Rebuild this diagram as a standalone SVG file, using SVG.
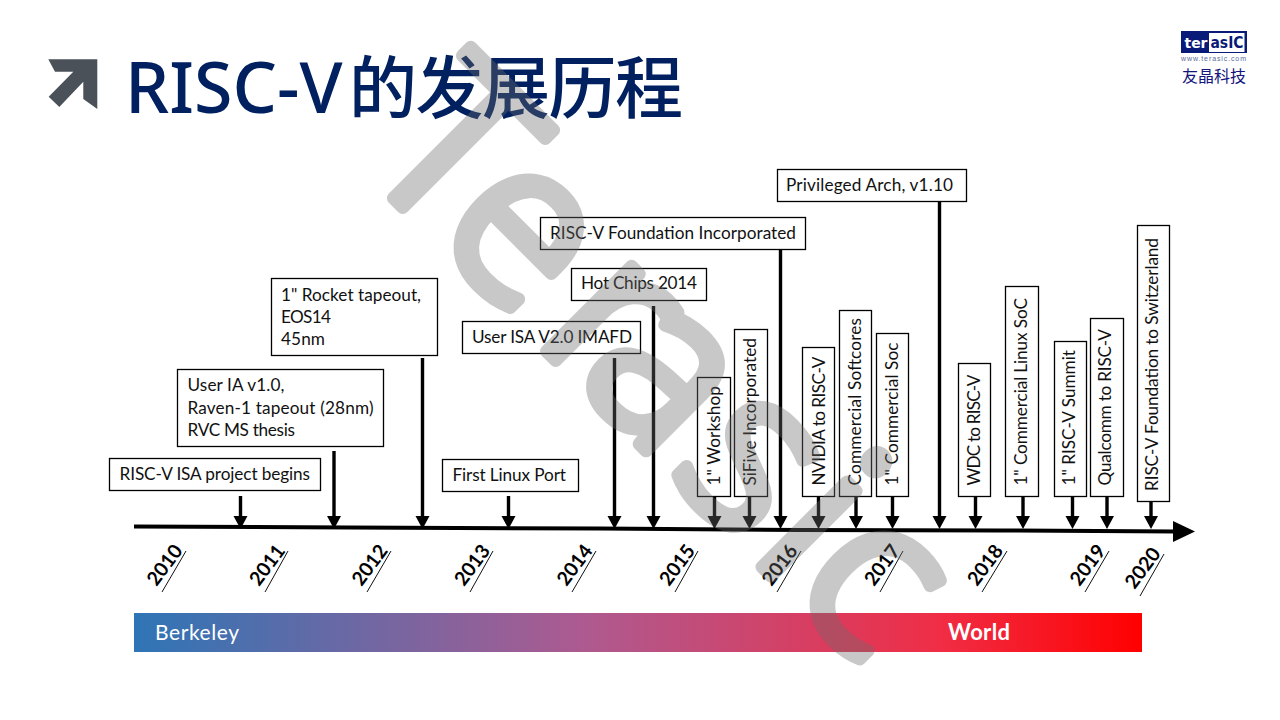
<svg xmlns="http://www.w3.org/2000/svg" width="1280" height="720" viewBox="0 0 1280 720">
<style>
.box{fill:#fff;stroke:#000;stroke-width:1.3}
.t{font-family:"Lato","Liberation Sans",sans-serif;font-size:17.2px;fill:#111}
.yr{font-family:"Lato","Liberation Sans",sans-serif;font-size:19.5px;font-weight:700;fill:#000;text-anchor:middle}
.ul{stroke:#111;stroke-width:1}
.arr{stroke:#000;stroke-width:3.4;fill:none}
.head{fill:#000}
</style>
<defs>
<linearGradient id="bar" x1="0" y1="0" x2="1" y2="0">
<stop offset="0" stop-color="#2e75b6"/>
<stop offset="0.45" stop-color="#ae5a90"/>
<stop offset="0.8" stop-color="#f02d45"/>
<stop offset="1" stop-color="#ff0000"/>
</linearGradient>
</defs>
<rect width="1280" height="720" fill="#fff"/>
<g id="title">
<polygon points="48.3,59.3 97.3,59.3 97.3,109 83.3,99 83.3,81.7 59.3,107 48.7,96.7 73.3,71.7 55,71.7" fill="#4a5158"/>
<text y="113" font-family="'Noto Sans','Noto Sans CJK SC',sans-serif" font-size="68" font-weight="500" fill="#002060"><tspan x="125" font-size="70">RISC-V</tspan><tspan x="349" textLength="334" lengthAdjust="spacing">的发展历程</tspan></text>
</g>
<g id="logo">
<rect x="1181" y="31" width="66" height="22" fill="#0a1a78"/>
<rect x="1209" y="33" width="35.5" height="19" fill="#fff"/>
<text x="1184.500" y="48" font-family="'DejaVu Sans',sans-serif" font-weight="700" font-size="14" fill="#fff" textLength="23" lengthAdjust="spacingAndGlyphs">ter</text>
<text x="1210.500" y="48" font-family="'DejaVu Sans',sans-serif" font-weight="700" font-size="15" fill="#0a1a78" textLength="33" lengthAdjust="spacingAndGlyphs">asIC</text>
<text x="1181" y="60.5" font-family="'Liberation Sans',sans-serif" font-size="7" fill="#5a6a9a" textLength="65">www.terasic.com</text>
<text x="1182" y="82" font-family="'Noto Sans CJK TC',sans-serif" font-size="16" fill="#14147c" textLength="64">友晶科技</text>
</g>
<g id="connectors">
<polyline points="134,526.5 350,527.5 600,528.5 800,530 1000,530.5 1176,531.5" fill="none" stroke="#000" stroke-width="4"/>
<polygon class="head" points="1173,521 1195,531.5 1173,542"/>
<g class="arr">
<line x1="240.5" y1="496" x2="240.5" y2="518"/>
<line x1="334" y1="451" x2="334" y2="518"/>
<line x1="422.5" y1="358" x2="422.5" y2="518"/>
<line x1="508.5" y1="496" x2="508.5" y2="518"/>
<line x1="614.5" y1="358" x2="614.5" y2="518"/>
<line x1="653.5" y1="306" x2="653.5" y2="518"/>
<line x1="714.5" y1="497" x2="714.5" y2="518"/>
<line x1="749.5" y1="497" x2="749.5" y2="518"/>
<line x1="780.5" y1="250" x2="780.5" y2="518"/>
<line x1="818.5" y1="497" x2="818.5" y2="518"/>
<line x1="856" y1="497" x2="856" y2="518"/>
<line x1="892.5" y1="497" x2="892.5" y2="518"/>
<line x1="939.5" y1="202" x2="939.5" y2="518"/>
<line x1="975.5" y1="497" x2="975.5" y2="518"/>
<line x1="1023" y1="497" x2="1023" y2="518"/>
<line x1="1072.5" y1="497" x2="1072.5" y2="518"/>
<line x1="1107" y1="497" x2="1107" y2="518"/>
<line x1="1151" y1="502" x2="1151" y2="518"/>
</g>
<g class="head">
<polygon points="233.5,516 247.5,516 240.5,529"/>
<polygon points="327,516 341,516 334,529"/>
<polygon points="415.5,516 429.5,516 422.5,529"/>
<polygon points="501.5,516 515.5,516 508.5,529"/>
<polygon points="607.5,516 621.5,516 614.5,529"/>
<polygon points="646.5,516 660.5,516 653.5,529"/>
<polygon points="707.5,516 721.5,516 714.5,529"/>
<polygon points="742.5,516 756.5,516 749.5,529"/>
<polygon points="773.5,516 787.5,516 780.5,529"/>
<polygon points="811.5,516 825.5,516 818.5,529"/>
<polygon points="849,516 863,516 856,529"/>
<polygon points="885.5,516 899.5,516 892.5,529"/>
<polygon points="932.5,516 946.5,516 939.5,529"/>
<polygon points="968.5,516 982.5,516 975.5,529"/>
<polygon points="1016,516 1030,516 1023,529"/>
<polygon points="1065.5,516 1079.5,516 1072.5,529"/>
<polygon points="1100,516 1114,516 1107,529"/>
<polygon points="1144,516 1158,516 1151,529"/>
</g>
</g>
<g id="n-isa-begins"><rect class="box" x="109.5" y="458.5" width="211" height="32"/><text class="t" x="119.5" y="480" textLength="190.5">RISC-V ISA project begins</text></g>
<g id="n-user-ia"><rect class="box" x="177.5" y="369.5" width="206" height="77"/><text class="t" x="187.5" y="391" textLength="97">User IA v1.0,</text><text class="t" x="187.5" y="413.5" textLength="186">Raven-1 tapeout (28nm)</text><text class="t" x="187.5" y="435.5" textLength="107.5">RVC MS thesis</text></g>
<g id="n-rocket"><rect class="box" x="271.5" y="278.5" width="166" height="77"/><text class="t" x="281" y="300.5" textLength="140">1" Rocket tapeout,</text><text class="t" x="281" y="322.5" textLength="50">EOS14</text><text class="t" x="281" y="345" textLength="44">45nm</text></g>
<g id="n-linux-port"><rect class="box" x="442.5" y="459.5" width="136" height="32"/><text class="t" x="452.5" y="481" textLength="113.5">First Linux Port</text></g>
<g id="n-user-isa"><rect class="box" x="462.5" y="321.5" width="178" height="32"/><text class="t" x="472" y="343" textLength="160">User ISA V2.0 IMAFD</text></g>
<g id="n-hot-chips"><rect class="box" x="571.5" y="268.5" width="135" height="32"/><text class="t" x="581" y="289" textLength="116">Hot Chips 2014</text></g>
<g id="n-foundation"><rect class="box" x="540.5" y="217.5" width="265" height="32"/><text class="t" x="550" y="239" textLength="246">RISC-V Foundation Incorporated</text></g>
<g id="n-privileged"><rect class="box" x="777.5" y="169.5" width="189" height="32"/><text class="t" x="786" y="191" textLength="167">Privileged Arch, v1.10</text></g>
<g id="n-workshop"><rect class="box" x="697.5" y="377.5" width="33" height="119"/><text class="t" transform="translate(719.5 485.5) rotate(-90)" textLength="99.5">1" Workshop</text></g>
<g id="n-sifive"><rect class="box" x="734.5" y="329.5" width="33" height="167"/><text class="t" transform="translate(756 485.5) rotate(-90)" textLength="147.5">SiFive Incorporated</text></g>
<g id="n-nvidia"><rect class="box" x="802.5" y="347.5" width="32" height="149"/><text class="t" transform="translate(825 485.5) rotate(-90)" textLength="129">NVIDIA to RISC-V</text></g>
<g id="n-softcores"><rect class="box" x="839.5" y="310.5" width="32" height="186"/><text class="t" transform="translate(860.7 485.5) rotate(-90)" textLength="167.5">Commercial Softcores</text></g>
<g id="n-soc"><rect class="box" x="876.5" y="333.5" width="32" height="163"/><text class="t" transform="translate(898 485.5) rotate(-90)" textLength="143">1" Commercial Soc</text></g>
<g id="n-wdc"><rect class="box" x="958.5" y="363.5" width="32" height="133"/><text class="t" transform="translate(980 485.5) rotate(-90)" textLength="111">WDC to RISC-V</text></g>
<g id="n-linux-soc"><rect class="box" x="1005.5" y="286.5" width="33" height="210"/><text class="t" transform="translate(1027.3 485.5) rotate(-90)" textLength="187.5">1" Commercial Linux SoC</text></g>
<g id="n-summit"><rect class="box" x="1054.5" y="341.5" width="32" height="155"/><text class="t" transform="translate(1075 485.5) rotate(-90)" textLength="135.5">1" RISC-V Summit</text></g>
<g id="n-qualcomm"><rect class="box" x="1090.5" y="318.5" width="33" height="178"/><text class="t" transform="translate(1111 485.5) rotate(-90)" textLength="156.5">Qualcomm to RISC-V</text></g>
<g id="n-switzerland"><rect class="box" x="1137.5" y="225.5" width="32" height="276"/><text class="t" transform="translate(1157.7 491) rotate(-90)" textLength="253">RISC-V Foundation to Switzerland</text></g>
<g id="years">
<line class="ul" x1="162" y1="592" x2="186" y2="551"/><text class="yr" transform="translate(170 569) rotate(-53)">2010</text>
<line class="ul" x1="265" y1="592" x2="288" y2="551"/><text class="yr" transform="translate(272.500 569) rotate(-53)">2011</text>
<line class="ul" x1="367" y1="592" x2="391" y2="551"/><text class="yr" transform="translate(375 569) rotate(-53)">2012</text>
<line class="ul" x1="470" y1="592" x2="493" y2="551"/><text class="yr" transform="translate(477.500 569) rotate(-53)">2013</text>
<line class="ul" x1="572" y1="592" x2="596" y2="551"/><text class="yr" transform="translate(580 569) rotate(-53)">2014</text>
<line class="ul" x1="675" y1="592" x2="698" y2="551"/><text class="yr" transform="translate(682.500 569) rotate(-53)">2015</text>
<line class="ul" x1="777" y1="592" x2="801" y2="551"/><text class="yr" transform="translate(785 569) rotate(-53)">2016</text>
<line class="ul" x1="880" y1="592" x2="903" y2="551"/><text class="yr" transform="translate(887.500 569) rotate(-53)">2017</text>
<line class="ul" x1="982" y1="592" x2="1007" y2="551"/><text class="yr" transform="translate(990.500 569) rotate(-53)">2018</text>
<line class="ul" x1="1085" y1="592" x2="1109" y2="551"/><text class="yr" transform="translate(1093 569) rotate(-53)">2019</text>
<line class="ul" x1="1140" y1="596" x2="1164" y2="554"/><text class="yr" transform="translate(1148 572) rotate(-53)">2020</text>
</g>
<g id="era-bar">
<rect x="134" y="613" width="1008" height="39" fill="url(#bar)"/>
<text x="155" y="640" font-family="Lato,sans-serif" font-size="21" fill="#fff" textLength="84">Berkeley</text>
<text x="948" y="640" font-family="Lato,sans-serif" font-size="22" font-weight="700" fill="#fff" textLength="62">World</text>
</g>
<g id="watermark" transform="rotate(45)">
<text y="-138" x="365 471 615 673 805 920 975" font-family="'Noto Sans',sans-serif" font-size="226" font-weight="300" fill="#6c6c6c" stroke="#6c6c6c" stroke-width="13" stroke-linejoin="round" opacity="0.37">Terasic</text>
</g>
</svg>
